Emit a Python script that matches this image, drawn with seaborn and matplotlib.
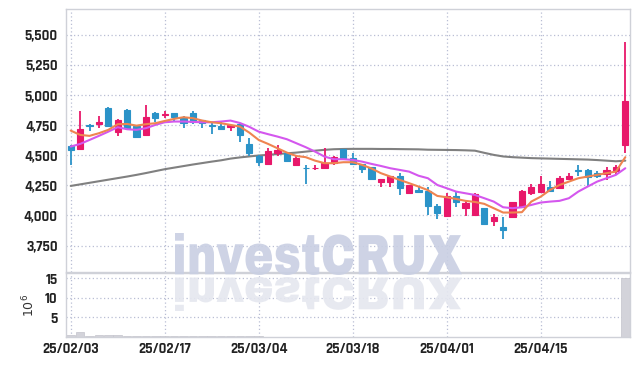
import matplotlib
matplotlib.use("Agg")
import matplotlib.pyplot as plt
import seaborn as sns
import numpy as np
from matplotlib.textpath import TextPath
from matplotlib.patches import PathPatch
from matplotlib.transforms import Affine2D
from matplotlib.font_manager import FontProperties
from matplotlib.ticker import FuncFormatter

# OHLC (60 trading days from 25/02/03)
opens = [4580, 4550, 4750, 4760, 4890, 4690, 4875, 4745, 4665, 4855,
         4835, 4850, 4810, 4850, 4790, 4750, 4745, 4735, 4760, 4595,
         4495, 4425, 4520, 4515, 4415, 4395, 4390, 4390, 4435, 4550,
         4475, 4425, 4400, 4280, 4275, 4325, 4190, 4215, 4205, 4075,
         3995, 4160, 4065, 4000, 4060, 3950, 3905, 3990, 4070, 4185,
         4195, 4240, 4230, 4305, 4375, 4380, 4355, 4345, 4365, 4585]
closes = [4540, 4715, 4740, 4775, 4745, 4795, 4725, 4655, 4820, 4810,
          4845, 4820, 4765, 4775, 4770, 4745, 4715, 4750, 4670, 4515,
          4445, 4535, 4545, 4450, 4480, 4390, 4395, 4435, 4485, 4475,
          4425, 4385, 4300, 4300, 4325, 4225, 4250, 4195, 4075, 4020,
          4160, 4115, 4105, 4180, 3925, 3985, 3875, 4110, 4205, 4235,
          4260, 4205, 4310, 4330, 4370, 4320, 4325, 4380, 4400, 4950]
highs = [4585, 4870, 4760, 4830, 4900, 4800, 4885, 4750, 4920, 4860,
         4865, 4855, 4825, 4868, 4795, 4766, 4775, 4755, 4769, 4642,
         4500, 4560, 4586, 4525, 4495, 4420, 4420, 4559, 4490, 4555,
         4522, 4430, 4405, 4305, 4330, 4356, 4255, 4240, 4234, 4096,
         4190, 4206, 4129, 4185, 4065, 4012, 3990, 4115, 4210, 4262,
         4328, 4289, 4325, 4351, 4420, 4385, 4367, 4401, 4420, 5440]
lows = [4415, 4545, 4700, 4725, 4745, 4660, 4710, 4650, 4660, 4780,
        4810, 4785, 4725, 4758, 4725, 4677, 4710, 4700, 4613, 4497,
        4410, 4425, 4497, 4445, 4410, 4262, 4375, 4385, 4420, 4470,
        4420, 4356, 4295, 4235, 4240, 4170, 4185, 4185, 4004, 3969,
        3995, 4068, 3996, 3995, 3920, 3913, 3802, 3977, 4065, 4170,
        4190, 4200, 4225, 4300, 4328, 4240, 4309, 4295, 4345, 4520]

# moving averages as drawn
ma5 = [4705, 4669, 4661, 4683, 4711, 4758, 4760, 4746, 4758, 4766,
       4785, 4802, 4816, 4808, 4788, 4774, 4766, 4752, 4738, 4688,
       4627, 4594, 4558, 4522, 4494, 4484, 4455, 4434, 4434, 4442,
       4442, 4420, 4390, 4351, 4323, 4295, 4268, 4240, 4210, 4162,
       4151, 4137, 4121, 4112, 4096, 4060, 4024, 4024, 4027, 4115,
       4156, 4212, 4253, 4281, 4309, 4323, 4337, 4351, 4364, 4484]
ma10 = [4572, 4594, 4627, 4661, 4696, 4733, 4716, 4711, 4725, 4752,
        4774, 4780, 4780, 4777, 4774, 4774, 4780, 4788, 4768, 4736,
        4696, 4675, 4655, 4633, 4600, 4567, 4530, 4489, 4467, 4467,
        4461, 4447, 4428, 4411, 4392, 4378, 4364, 4330, 4309, 4253,
        4226, 4198, 4184, 4170, 4143, 4115, 4068, 4060, 4068, 4087,
        4107, 4115, 4121, 4143, 4198, 4240, 4281, 4309, 4337, 4392]
ma_long = [4245, 4258, 4271, 4284, 4297, 4310, 4323, 4337, 4352, 4368,
           4384, 4397, 4410, 4423, 4435, 4447, 4458, 4472, 4482, 4490,
           4498, 4503, 4510, 4516, 4522, 4530, 4538, 4545, 4550, 4552,
           4553, 4553, 4553, 4552, 4552, 4551, 4550, 4549, 4546, 4545,
           4544, 4543, 4541, 4538, 4520, 4503, 4490, 4484, 4480, 4476,
           4474, 4472, 4470, 4468, 4466, 4464, 4460, 4455, 4450, 4455]

# volume in millions
volumes = [0.5, 1.3, 0.25, 0.4, 0.45, 0.4, 0.3, 0.25, 0.35, 0.3,
           0.25, 0.3, 0.25, 0.3, 0.25, 0.2, 0.2, 0.15, 0.2, 0.3,
           0.15, 0.1, 0.1, 0.1, 0.1, 0.08, 0.08, 0.1, 0.08, 0.08,
           0.08, 0.07, 0.07, 0.06, 0.06, 0.07, 0.06, 0.06, 0.08, 0.07,
           0.06, 0.06, 0.06, 0.07, 0.07, 0.06, 0.08, 0.07, 0.07, 0.06,
           0.06, 0.06, 0.06, 0.06, 0.06, 0.06, 0.06, 0.06, 0.07, 15.0]

tick_labels = ['25/02/03', '25/02/17', '25/03/04', '25/03/18', '25/04/01', '25/04/15']

sns.set_style("white")
plt.rcParams['font.family'] = ['Rajdhani', 'DejaVu Sans']

UP, DOWN = '#e8186a', '#2b93c8'
GRID = '#b9bed4'
TICK_FS = 10.5

W, H = 639, 366
fig = plt.figure(figsize=(W / 100, H / 100), dpi=100)
ax1 = fig.add_axes([66 / W, 1 - 272 / H, 564 / W, 263 / H])
ax2 = fig.add_axes([66 / W, 1 - 337 / H, 564 / W, 64 / H], sharex=ax1)

idx = np.arange(len(opens))
o, c = np.array(opens), np.array(closes)
cols = [UP if cc >= oo else DOWN for oo, cc in zip(o, c)]

# wicks and bodies
ax1.vlines(idx, lows, highs, colors=cols, linewidth=1.3, zorder=3)
ax1.bar(idx, np.abs(c - o), bottom=np.minimum(o, c), width=0.64,
        color=cols, edgecolor=cols, linewidth=0.8, zorder=4)

# moving averages
sns.lineplot(x=idx, y=ma_long, ax=ax1, color='#808080', linewidth=1.5, zorder=2)
sns.lineplot(x=idx, y=ma10, ax=ax1, color='#d457ee', linewidth=1.5, zorder=5)
sns.lineplot(x=idx, y=ma5, ax=ax1, color='#ef8450', linewidth=1.5, zorder=6)

ax1.set_xlim(-0.5, 59.5)
ax1.set_ylim(3530, 5715)
ax1.set_yticks([3750, 4000, 4250, 4500, 4750, 5000, 5250, 5500])
ax1.yaxis.set_major_formatter(FuncFormatter(lambda v, p: f'{v:,.0f}'))
ax1.set_xticks(range(0, 60, 10))
ax1.tick_params(axis='x', labelbottom=False, length=0)
ax1.tick_params(axis='y', length=0, pad=6, labelsize=TICK_FS, labelcolor='#222222')
for lab in ax1.get_yticklabels():
    lab.set_fontweight('bold')
ax1.grid(True, linestyle=(0, (1, 2)), color=GRID, linewidth=0.9)

# volume
ax2.bar(idx, volumes, width=0.9, color='#d3d3da', edgecolor='#c4c4cc', linewidth=0.5)
ax2.set_ylim(0, 16.4)
ax2.set_yticks([5, 10, 15])
ax2.set_ylabel(r'$10^6$', fontsize=9, color='#333333', labelpad=10)
ax2.yaxis.set_label_coords(-0.052, 0.5)
ax2.set_xticks(range(0, 60, 10))
ax2.set_xticklabels(tick_labels)
ax2.tick_params(axis='both', length=0, labelsize=TICK_FS, labelcolor='#222222')
ax2.tick_params(axis='y', pad=6)
for lab in ax2.get_xticklabels() + ax2.get_yticklabels():
    lab.set_fontweight('bold')
ax2.grid(True, linestyle=(0, (1, 2)), color=GRID, linewidth=0.9)

for ax in (ax1, ax2):
    for sp in ax.spines.values():
        sp.set_color('#cfd1d8')
        sp.set_linewidth(1.0)

# watermark with reflection
tp = TextPath((0, 0), 'investCRUX', size=1,
              prop=FontProperties(family=['Archivo Black', 'DejaVu Sans'], weight='bold'))
bb = tp.get_extents()
x0, wpx = 175, 287
up_tr = (Affine2D().translate(-bb.x0, -bb.y0)
         .scale(wpx / bb.width / W, 42 / bb.height / H)
         .translate(x0 / W, (H - 275) / H))
fig.patches.append(PathPatch(tp, transform=up_tr + fig.transFigure,
                             facecolor='#c9cfe3', edgecolor='none',
                             alpha=0.9, zorder=10))
dn_tr = (Affine2D().translate(-bb.x0, -bb.y0)
         .scale(wpx / bb.width / W, -34 / bb.height / H)
         .translate(x0 / W, (H - 277) / H))
fig.patches.append(PathPatch(tp, transform=dn_tr + fig.transFigure,
                             facecolor='#e5e7ef', edgecolor='none',
                             alpha=0.9, zorder=10))

fig.savefig('out.png', dpi=100)
